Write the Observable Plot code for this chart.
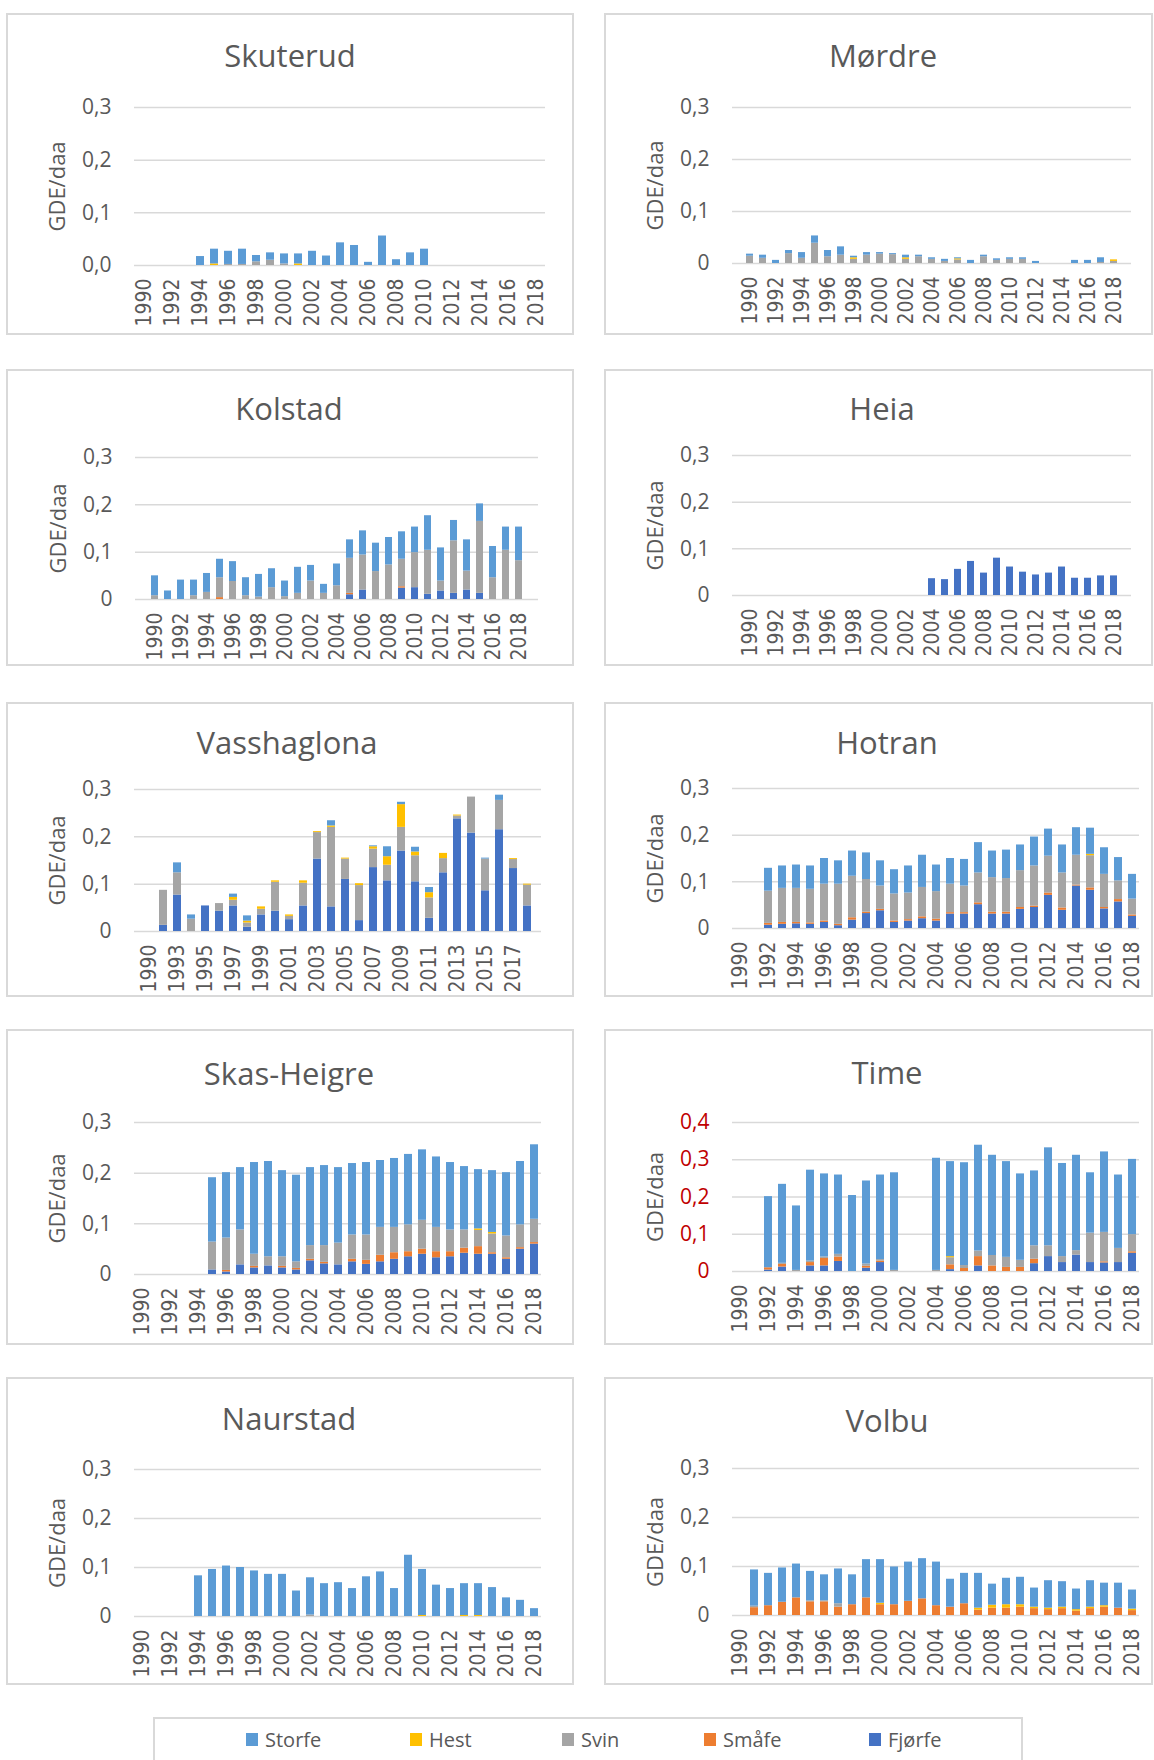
<!DOCTYPE html>
<html>
<head>
<meta charset="utf-8">
<script src="https://cdn.jsdelivr.net/npm/d3@7"></script>
<script src="https://cdn.jsdelivr.net/npm/@observablehq/plot@0.6"></script>
<style>
  body { margin: 0; background: #fff; }
  #page { position: relative; width: 1154px; height: 1760px; overflow: hidden; font-family: "Open Sans", sans-serif; background: #fff; }
  .panel { position: absolute; box-shadow: inset 0 0 0 2px #d9d9d9; background: #fff; }
  .panel svg { position: absolute; left: 0; top: 0; overflow: visible; }
  .title { position: absolute; font-size: 31px; color: #595959; line-height: 40px; white-space: nowrap; transform: translateX(-50%); }
  .legend { position: absolute; left: 153px; top: 1717px; width: 870px; height: 70px; box-shadow: inset 0 0 0 2px #d9d9d9; }
  .legend .item { position: absolute; top: 0; height: 40px; display: flex; align-items: center; font-size: 20px; color: #595959; }
  .legend .sw { width: 12px; height: 13px; margin-right: 7px; }
</style>
</head>
<body>
<div id="page"></div>
<script>
// Years on the category axis
const years = [1990,1991,1992,1993,1994,1995,1996,1997,1998,1999,2000,2001,2002,2003,2004,2005,2006,2007,2008,2009,2010,2011,2012,2013,2014,2015,2016,2017,2018];
const yearsVasshaglona = [1990,1992,1993,1994,1995,1996,1997,1998,1999,2000,2001,2002,2003,2004,2005,2006,2007,2008,2009,2010,2011,2012,2013,2014,2015,2016,2017,2018];

// Animal categories (legend order) and their colours
const seriesNames = ["Storfe", "Hest", "Svin", "Småfe", "Fjørfe"];
const seriesColors = ["#5b9bd5", "#ffc000", "#a5a5a5", "#ed7d31", "#4472c4"];
// Stacking order, bottom to top
const stackOrder = ["Fjørfe", "Småfe", "Svin", "Hest", "Storfe"];

// GDE/daa per year, 1990–2018
const skuterudStorfe = [0,0,0,0,0.017,0.028,0.025,0.029,0.012,0.014,0.019,0.019,0.027,0.018,0.043,0.038,0.006,0.056,0.011,0.024,0.031,0,0,0,0,0,0,0,0];
const skuterudHest   = [0,0,0,0,0,0.003,0,0,0,0,0,0.003,0,0,0,0,0,0,0,0,0,0,0,0,0,0,0,0,0];
const skuterudSvin   = [0,0,0,0,0,0,0.002,0.002,0.007,0.010,0.003,0,0,0,0,0,0,0,0,0,0,0,0,0,0,0,0,0,0];

const mordreStorfe = [0.004,0.006,0.006,0.006,0.011,0.014,0.012,0.016,0.003,0.005,0.003,0.002,0.005,0.003,0.003,0.004,0.002,0.006,0.003,0.003,0.003,0.003,0.004,0,0,0.006,0.006,0.009,0];
const mordreHest   = [0,0,0,0,0,0,0,0,0.003,0,0,0,0.003,0,0,0,0.002,0,0,0,0,0,0,0,0,0,0,0,0.003];
const mordreSvin   = [0.014,0.010,0,0.019,0.010,0.039,0.013,0.016,0.008,0.016,0.018,0.017,0.008,0.013,0.008,0.004,0.007,0,0.013,0.006,0.008,0.008,0,0,0,0,0,0.002,0.004];

const kolstadStorfe = [0.042,0.018,0.041,0.033,0.040,0.039,0.042,0.038,0.048,0.040,0.033,0.055,0.033,0.019,0.046,0.039,0.051,0.060,0.058,0.058,0.054,0.073,0.070,0.043,0.066,0.037,0.066,0.049,0.071];
const kolstadSvin   = [0.008,0,0,0.008,0.015,0.042,0.038,0.008,0.005,0.025,0.006,0.013,0.039,0.013,0.029,0.074,0.074,0.059,0.073,0.058,0.074,0.093,0.021,0.111,0.040,0.152,0.046,0.104,0.082];
const kolstadSmafe  = [0,0,0,0,0,0.004,0,0,0,0,0,0,0,0,0,0.003,0,0,0,0.003,0,0,0,0,0,0,0,0,0];
const kolstadFjorfe = [0,0,0,0,0,0,0,0,0,0,0,0,0,0,0,0.010,0.020,0,0,0.024,0.025,0.011,0.018,0.013,0.020,0.013,0,0,0];

const heiaFjorfe = [0,0,0,0,0,0,0,0,0,0,0,0,0,0,0.036,0.034,0.056,0.073,0.048,0.080,0.061,0.050,0.044,0.048,0.061,0.037,0.037,0.042,0.042];

// Vasshaglona uses its own year list (no 1991)
const vasshaglonaStorfe = [0,0,0.021,0.009,0,0,0.007,0.011,0,0,0,0,0,0.011,0,0,0.002,0.021,0.005,0.010,0.011,0,0,0,0.002,0.011,0,0];
const vasshaglonaHest   = [0,0,0,0,0,0,0.006,0.004,0.005,0.003,0.003,0.005,0.002,0.003,0.002,0.004,0.005,0.018,0.048,0.008,0.011,0.011,0.002,0,0,0,0.002,0.002];
const vasshaglonaSvin   = [0,0.074,0.047,0.026,0,0.016,0.012,0.009,0.012,0.061,0.007,0.048,0.056,0.168,0.043,0.074,0.039,0.033,0.050,0.055,0.043,0.030,0.006,0.076,0.067,0.062,0.019,0.044];
const vasshaglonaFjorfe = [0,0.013,0.077,0,0.054,0.043,0.054,0.009,0.035,0.043,0.025,0.054,0.153,0.052,0.110,0.023,0.135,0.107,0.170,0.105,0.028,0.124,0.238,0.208,0.086,0.215,0.133,0.054];

const hotranStorfe = [0,0,0.049,0.048,0.050,0.050,0.055,0.050,0.054,0.057,0.054,0.052,0.058,0.069,0.057,0.055,0.057,0.065,0.057,0.061,0.055,0.062,0.058,0.060,0.059,0.056,0.057,0.050,0.053];
const hotranHest   = [0,0,0,0,0,0,0,0,0,0,0,0,0,0,0,0,0,0,0,0,0,0,0,0,0,0.003,0,0,0];
const hotranSvin   = [0,0,0.069,0.073,0.073,0.072,0.079,0.086,0.089,0.070,0.050,0.058,0.057,0.063,0.059,0.061,0.057,0.064,0.074,0.072,0.079,0.086,0.079,0.075,0.064,0.069,0.071,0.040,0.034];
const hotranSmafe  = [0,0,0.004,0.004,0.003,0.003,0.003,0.003,0.005,0.003,0.003,0.003,0.003,0.004,0.004,0.003,0.003,0.004,0.004,0.004,0.004,0.003,0.005,0.005,0.002,0.005,0.003,0.005,0.003];
const hotranFjorfe = [0,0,0.007,0.009,0.010,0.009,0.013,0.006,0.018,0.032,0.038,0.013,0.016,0.021,0.016,0.031,0.031,0.051,0.031,0.031,0.041,0.045,0.071,0.039,0.091,0.082,0.042,0.057,0.026];

const skasStorfe = [0,0,0,0,0,0.127,0.129,0.123,0.181,0.188,0.170,0.171,0.154,0.158,0.149,0.141,0.143,0.132,0.136,0.139,0.139,0.139,0.133,0.125,0.117,0.122,0.125,0.125,0.147];
const skasHest   = [0,0,0,0,0,0,0,0,0,0,0,0,0,0,0,0,0,0,0,0,0,0,0,0,0.003,0.003,0,0,0];
const skasSvin   = [0,0,0,0,0,0.055,0.064,0.069,0.024,0.018,0.019,0.013,0.027,0.033,0.043,0.048,0.050,0.055,0.050,0.053,0.057,0.048,0.043,0.036,0.032,0.037,0.043,0.045,0.046];
const skasSmafe  = [0,0,0,0,0,0,0.003,0,0.003,0,0.003,0.003,0.003,0.003,0,0.005,0.008,0.013,0.013,0.010,0.010,0.012,0.010,0.010,0.015,0.003,0.003,0.003,0.003];
const skasFjorfe = [0,0,0,0,0,0.009,0.005,0.019,0.013,0.017,0.013,0.009,0.027,0.021,0.019,0.025,0.020,0.025,0.030,0.035,0.040,0.033,0.035,0.042,0.040,0.040,0.030,0.050,0.060];

const timeStorfe = [0,0,0.191,0.212,0.173,0.244,0.223,0.213,0.204,0.223,0.227,0.262,0,0,0.301,0.255,0.276,0.284,0.269,0.257,0.232,0.201,0.263,0.250,0.256,0.162,0.216,0.197,0.202];
const timeHest   = [0,0,0,0,0,0,0,0,0,0,0,0,0,0,0,0.003,0,0,0,0,0,0,0,0,0,0,0,0,0];
const timeSvin   = [0,0,0,0.003,0.003,0.004,0.004,0.007,0,0.006,0.004,0.003,0,0,0.003,0.019,0.008,0.015,0.028,0.027,0.019,0.036,0.029,0.016,0.012,0.079,0.079,0.038,0.046];
const timeSmafe  = [0,0,0.006,0.007,0,0.009,0.020,0.012,0,0.005,0.004,0,0,0,0,0.013,0.008,0.025,0.015,0.011,0.011,0.012,0,0,0,0,0.003,0,0.004];
const timeFjorfe = [0,0,0.004,0.012,0,0.015,0.015,0.027,0,0.009,0.024,0,0,0,0,0.005,0,0.015,0,0,0,0.021,0.040,0.024,0.044,0.024,0.023,0.024,0.049];

const naurstadStorfe = [0,0,0,0,0.083,0.096,0.103,0.100,0.093,0.086,0.086,0.052,0.076,0.067,0.069,0.057,0.081,0.091,0.057,0.125,0.094,0.064,0.057,0.065,0.065,0.059,0.038,0.033,0.016];
const naurstadHest   = [0,0,0,0,0,0,0,0,0,0,0,0,0,0,0,0,0,0,0,0,0.002,0,0,0.002,0.002,0,0,0,0];
const naurstadSvin   = [0,0,0,0,0,0,0,0,0,0,0,0,0.003,0,0,0,0,0,0,0,0,0,0,0,0,0,0,0,0];

const volbuStorfe = [0,0.074,0.066,0.070,0.069,0.060,0.053,0.071,0.061,0.078,0.089,0.077,0.080,0.082,0.089,0.057,0.062,0.071,0.043,0.054,0.056,0.039,0.056,0.052,0.042,0.054,0.046,0.051,0.039];
const volbuHest   = [0,0,0,0,0,0,0,0,0,0,0.003,0,0,0,0,0,0,0.004,0.006,0.007,0.005,0.003,0.003,0.003,0.003,0.003,0.003,0,0.003];
const volbuSvin   = [0,0.003,0,0,0,0.002,0.002,0.007,0,0,0,0,0,0,0,0,0,0,0,0,0,0,0,0,0,0,0,0,0];
const volbuSmafe  = [0,0.016,0.020,0.027,0.036,0.028,0.028,0.017,0.022,0.036,0.022,0.022,0.029,0.034,0.020,0.017,0.024,0.011,0.015,0.015,0.017,0.014,0.012,0.014,0.009,0.014,0.017,0.015,0.010];

// Panel layout: box = [left, top, width, height], m = [top, right, bottom, left] plot margins
const panels = [
  { title: "Skuterud", yrs: years, series: { Storfe: skuterudStorfe, Hest: skuterudHest, Svin: skuterudSvin }, ymax: 0.3, zero: "0,0", box: [6, 13, 568, 322], m: [94, 29, 70, 128], tx: 290, ty: 55 },
  { title: "Mørdre", yrs: years, series: { Storfe: mordreStorfe, Hest: mordreHest, Svin: mordreSvin }, ymax: 0.3, zero: "0", box: [604, 13, 549, 322], m: [94, 22, 72, 128], tx: 883, ty: 55 },
  { title: "Kolstad", yrs: years, series: { Storfe: kolstadStorfe, Svin: kolstadSvin, "Småfe": kolstadSmafe, "Fjørfe": kolstadFjorfe }, ymax: 0.3, zero: "0", box: [6, 369, 568, 297], m: [88, 36, 67, 129], tx: 289, ty: 408 },
  { title: "Heia", yrs: years, series: { "Fjørfe": heiaFjorfe }, ymax: 0.3, zero: "0", box: [604, 369, 549, 297], m: [86, 22, 71, 128], tx: 882, ty: 408 },
  { title: "Vasshaglona", yrs: yearsVasshaglona, series: { Storfe: vasshaglonaStorfe, Hest: vasshaglonaHest, Svin: vasshaglonaSvin, "Fjørfe": vasshaglonaFjorfe }, ymax: 0.3, zero: "0", box: [6, 702, 568, 295], m: [87, 33, 66, 128], tx: 287, ty: 742 },
  { title: "Hotran", yrs: years, series: { Storfe: hotranStorfe, Hest: hotranHest, Svin: hotranSvin, "Småfe": hotranSmafe, "Fjørfe": hotranFjorfe }, ymax: 0.3, zero: "0", box: [604, 702, 549, 295], m: [86, 14, 69, 128], tx: 887, ty: 742 },
  { title: "Skas-Heigre", yrs: years, series: { Storfe: skasStorfe, Hest: skasHest, Svin: skasSvin, "Småfe": skasSmafe, "Fjørfe": skasFjorfe }, ymax: 0.3, zero: "0", box: [6, 1029, 568, 316], m: [93, 33, 71, 128], tx: 289, ty: 1073 },
  { title: "Time", yrs: years, series: { Storfe: timeStorfe, Hest: timeHest, Svin: timeSvin, "Småfe": timeSmafe, "Fjørfe": timeFjorfe }, ymax: 0.4, zero: "0", tickColor: "#c00000", box: [604, 1029, 549, 316], m: [93, 14, 74, 128], tx: 887, ty: 1072 },
  { title: "Naurstad", yrs: years, series: { Storfe: naurstadStorfe, Hest: naurstadHest, Svin: naurstadSvin }, ymax: 0.3, zero: "0", box: [6, 1377, 568, 308], m: [92, 33, 69, 128], tx: 289, ty: 1418 },
  { title: "Volbu", yrs: years, series: { Storfe: volbuStorfe, Hest: volbuHest, Svin: volbuSvin, "Småfe": volbuSmafe }, ymax: 0.3, zero: "0", box: [604, 1377, 549, 308], m: [91, 14, 70, 128], tx: 887, ty: 1420 }
];

const page = document.getElementById("page");
const textGrey = "#595959";
const narrow = "'Liberation Sans Narrow', 'Arial Narrow', 'DejaVu Sans Condensed', sans-serif";

function toRows(yrs, series) {
  const out = [];
  yrs.forEach((yr, i) => {
    for (const s of stackOrder) {
      const v = series[s] ? series[s][i] : 0;
      if (v > 0) out.push({ year: String(yr), series: s, value: v });
    }
  });
  return out;
}

for (const p of panels) {
  const [bx, by, bw, bh] = p.box;
  const [mt, mr, mb, ml] = p.m;
  const panel = document.createElement("div");
  panel.className = "panel";
  Object.assign(panel.style, { left: bx + "px", top: by + "px", width: bw + "px", height: bh + "px" });

  const domain = p.yrs.map(String);
  const tickYears = domain.filter((d, i) => i % 2 === 0);
  const yTicks = d3.range(0, p.ymax + 1e-9, 0.1).map(v => +v.toFixed(1));
  const fmt = d => d === 0 ? p.zero : d.toFixed(1).replace(".", ",");
  const tickColor = p.tickColor || textGrey;

  const chart = Plot.plot({
    width: bw,
    height: bh,
    marginTop: mt,
    marginRight: mr,
    marginBottom: mb,
    marginLeft: ml,
    style: { background: "transparent", fontFamily: "'Open Sans', sans-serif", color: textGrey },
    x: { type: "band", domain, paddingInner: 0.45, paddingOuter: 0.225, axis: null },
    y: { domain: [0, p.ymax], axis: null },
    color: { domain: seriesNames, range: seriesColors },
    marks: [
      Plot.gridY(yTicks, { stroke: "#d9d9d9", strokeOpacity: 1, strokeWidth: 1.5 }),
      Plot.barY(toRows(p.yrs, p.series), Plot.stackY({ x: "year", y: "value", fill: "series", order: stackOrder })),
      Plot.axisY(yTicks, { tickSize: 0, tickPadding: 23, tickFormat: fmt, fontSize: 21, color: tickColor, label: null }),
      Plot.axisX(tickYears, { tickSize: 0, tickPadding: 13, tickRotate: -90, fontSize: 21, fontFamily: narrow, color: textGrey, label: null }),
      Plot.text(["GDE/daa"], { frameAnchor: "left", dx: -77, rotate: -90, fontSize: 22, fill: textGrey, textAnchor: "middle", lineAnchor: "middle" })
    ]
  });
  panel.appendChild(chart);

  const title = document.createElement("div");
  title.className = "title";
  title.textContent = p.title;
  Object.assign(title.style, { left: (p.tx - bx) + "px", top: (p.ty - by - 20) + "px" });
  panel.appendChild(title);

  page.appendChild(panel);
}

// Legend below the panels
const legend = document.createElement("div");
legend.className = "legend";
const itemLefts = [246, 410, 562, 704, 869];
seriesNames.forEach((name, i) => {
  const item = document.createElement("div");
  item.className = "item";
  item.style.left = (itemLefts[i] - 153) + "px";
  item.style.top = "2px";
  const sw = document.createElement("div");
  sw.className = "sw";
  sw.style.background = seriesColors[i];
  const label = document.createElement("span");
  label.textContent = name;
  item.appendChild(sw);
  item.appendChild(label);
  legend.appendChild(item);
});
page.appendChild(legend);
</script>
</body>
</html>
